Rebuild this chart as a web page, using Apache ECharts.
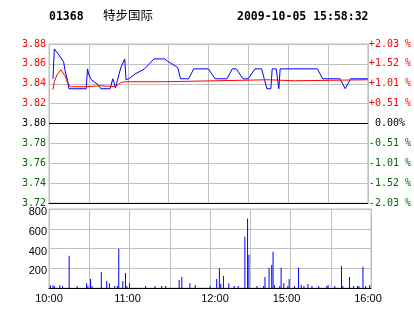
<!DOCTYPE html>
<html><head><meta charset="utf-8">
<script src="https://cdn.jsdelivr.net/npm/echarts@6/dist/echarts.min.js"></script>
<style>html,body{margin:0;padding:0;background:#fff}#c{width:414px;height:314px}</style>
</head><body><div id="c"></div>
<script>
const stockCode = '01368';
const stockName = '特步国际';
const stamp = '2009-10-05 15:58:32';

const priceTimes = ['10:03','10:04','10:08','10:11','10:12','10:14','10:15','10:28','10:29','10:30','10:32','10:37','10:39','10:46','10:48','10:49','10:50','10:51','10:54','10:57','10:58','11:00','11:05','11:12','11:19','11:27','11:30','11:35','11:37','11:39','11:45','11:49','12:00','12:05','12:14','12:18','12:21','12:26','12:30','14:35','14:40','14:42','14:44','14:47','14:48','14:51','14:53','14:54','15:22','15:26','15:39','15:43','15:47','16:00'];
const prices = [3.845,3.875,3.868,3.862,3.854,3.843,3.835,3.835,3.855,3.849,3.844,3.839,3.835,3.835,3.845,3.841,3.836,3.841,3.856,3.865,3.844,3.845,3.850,3.855,3.865,3.865,3.862,3.858,3.856,3.845,3.845,3.855,3.855,3.845,3.845,3.855,3.855,3.845,3.845,3.855,3.855,3.845,3.835,3.835,3.855,3.855,3.835,3.855,3.855,3.845,3.845,3.835,3.845,3.845];

const avgTimes = ['10:03','10:04','10:06','10:09','10:10','10:12','10:14','10:16','10:28','10:29','10:39','10:40','10:50','10:51','10:54','10:57','11:26','11:27','14:45','14:46','15:05','15:06','16:00'];
const avgPrices = [3.834,3.842,3.849,3.854,3.853,3.848,3.841,3.837,3.837,3.838,3.838,3.837,3.837,3.839,3.841,3.842,3.842,3.844,3.844,3.843,3.843,3.844,3.844];

const volTimes = ['10:01','10:03','10:04','10:08','10:10','10:15','10:21','10:28','10:29','10:31','10:32','10:39','10:43','10:45','10:49','10:51','10:52','10:55','10:57','10:58','11:00','11:12','11:19','11:24','11:27','11:37','11:39','11:45','11:49','12:00','12:05','12:07','12:08','12:10','12:14','12:18','12:21','12:26','12:28','12:29','14:35','14:40','14:41','14:44','14:46','14:47','14:48','14:52','14:53','14:55','14:58','14:59','15:03','15:06','15:08','15:10','15:13','15:16','15:21','15:27','15:28','15:33','15:38','15:39','15:44','15:47','15:50','15:51','15:54','15:56','15:59'];
const volumes = [27,27,20,27,20,326,20,48,20,92,20,163,71,48,20,20,397,71,153,20,48,20,20,20,20,82,112,48,30,20,92,200,40,122,48,20,20,520,703,336,20,20,112,204,234,367,30,20,204,48,20,92,20,204,30,20,40,20,20,20,30,20,224,20,112,20,20,20,214,20,30];

const pctTicks = ['-2.03 %','-1.52 %','-1.01 %','-0.51 %',' 0.00%','+0.51 %','+1.01 %','+1.52 %','+2.03 %'];
const timeTicks = ['10:00','11:00','12:00','15:00','16:00'];
const prevClose = 3.80;

// trading minute index: morning 10:00-12:30, afternoon 14:30-16:00
function idx(s){const [h,m]=s.split(':').map(Number);const t=h*60+m;return t<=750?t-600:150+(t-870);}
const pricePts = priceTimes.map((t,i)=>[idx(t),prices[i]]);
const avgPts = avgTimes.map((t,i)=>[idx(t),avgPrices[i]]);
const volPts = volTimes.map((t,i)=>[idx(t),volumes[i]]);

const RED='#ff0000', GREEN='#006600', GRID='#c0c0c0';
const mono='"DejaVu Sans Mono", monospace';
const sans='"Liberation Sans", Arial, sans-serif';
const labShift=[0,-2,5,-4,-3];

const chart = echarts.init(document.getElementById('c'), null, {renderer:'canvas'});
chart.setOption({
  animation:false,
  backgroundColor:'#fff',
  title:[
    {text:stockCode,left:49,top:11,padding:0,textStyle:{fontFamily:mono,fontWeight:'bold',fontSize:11.5,color:'#000'}},
    {text:stockName,left:103,top:9,padding:0,textStyle:{fontFamily:'"Noto Sans CJK SC", sans-serif',fontWeight:'normal',fontSize:12.5,color:'#000'}},
    {text:stamp,left:237,top:11,padding:0,textStyle:{fontFamily:mono,fontWeight:'bold',fontSize:11.5,color:'#000'}}
  ],
  grid:[
    {left:49,right:43,top:44,height:159,show:true,borderColor:GRID,borderWidth:1},
    {left:49,right:43,top:209,height:79,show:true,borderColor:GRID,borderWidth:1}
  ],
  xAxis:[
    {type:'value',gridIndex:0,min:0,max:240,interval:30,
     axisLine:{show:true,onZero:false,lineStyle:{color:'#000',width:1}},
     axisTick:{show:false},axisLabel:{show:false},
     splitLine:{show:true,lineStyle:{color:GRID,width:1}}},
    {type:'value',gridIndex:1,min:0,max:240,interval:30,
     axisLine:{show:true,onZero:false,lineStyle:{color:'#000',width:1}},
     axisTick:{show:false},
     axisLabel:{show:true,margin:5,fontFamily:sans,fontSize:11,color:'#000',
       formatter:v=>{if(v%60!==0)return '';const k=v/60;return '{s'+k+'|'+timeTicks[k]+'}';},
       rich:Object.fromEntries(labShift.map((s,k)=>['s'+k,{fontFamily:sans,fontSize:11,color:'#000',padding:s>=0?[0,0,0,2*s]:[0,-2*s,0,0]}]))},
     splitLine:{show:true,lineStyle:{color:GRID,width:1}}}
  ],
  yAxis:[
    {type:'value',gridIndex:0,min:3.72,max:3.88,interval:0.02,
     axisLine:{show:true,lineStyle:{color:GRID}},axisTick:{show:false},
     axisLabel:{margin:3,fontFamily:mono,fontSize:10,
       formatter:v=>{const d=Math.round((v-prevClose)*100);const c=d>0?'r':(d<0?'g':'k');return '{'+c+'|'+v.toFixed(2)+'}';},
       rich:{r:{color:RED,fontFamily:mono,fontSize:10},g:{color:GREEN,fontFamily:mono,fontSize:10},k:{color:'#000',fontFamily:mono,fontSize:10}}},
     splitLine:{show:true,lineStyle:{color:GRID,width:1}}},
    {type:'value',gridIndex:0,position:'right',min:3.72,max:3.88,interval:0.02,
     axisLine:{show:true,lineStyle:{color:GRID}},axisTick:{show:false},
     axisLabel:{margin:1,fontFamily:mono,fontSize:10,
       formatter:v=>{const i=Math.round((v-3.72)/0.02);const c=i>4?'r':(i<4?'g':'k');return '{'+c+'|'+pctTicks[i]+'}';},
       rich:{r:{color:RED,fontFamily:mono,fontSize:10},g:{color:GREEN,fontFamily:mono,fontSize:10},k:{color:'#000',fontFamily:mono,fontSize:10}}},
     splitLine:{show:false}},
    {type:'value',gridIndex:1,min:0,max:800,interval:200,
     axisLine:{show:true,lineStyle:{color:GRID}},axisTick:{show:false},
     axisLabel:{margin:2,fontFamily:sans,fontSize:11,color:'#000',
       formatter:v=>v===0?'':'{v|'+v+'}',
       rich:{v:{fontFamily:sans,fontSize:11,color:'#000',padding:[6,0,0,0]}}},
     splitLine:{show:true,lineStyle:{color:GRID,width:1}}}
  ],
  series:[
    {type:'line',xAxisIndex:0,yAxisIndex:0,data:avgPts,showSymbol:false,
     lineStyle:{color:RED,width:1},itemStyle:{color:RED},z:3,
     markLine:{silent:true,symbol:'none',label:{show:false},lineStyle:{color:'#000',type:'solid',width:1},data:[{yAxis:prevClose}]}},
    {type:'line',xAxisIndex:0,yAxisIndex:0,data:pricePts,showSymbol:false,
     lineStyle:{color:'#0000ff',width:1},itemStyle:{color:'#0000ff'},z:2},
    {type:'bar',xAxisIndex:1,yAxisIndex:2,data:volPts,barWidth:1,
     itemStyle:{color:'#0000ff'}}
  ]
});
</script></body></html>
